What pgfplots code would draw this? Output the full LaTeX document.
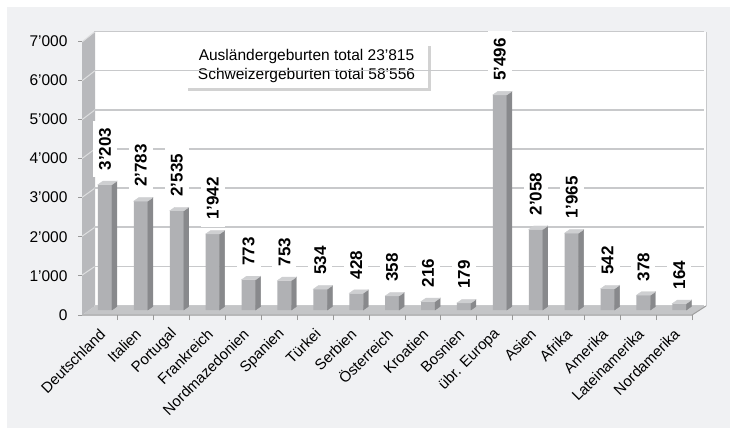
\documentclass[border=0pt]{standalone}
\usepackage{pgfplots}
\pgfplotsset{compat=1.18}
\usepackage{pgfplotstable}
\usepackage{fontspec}
\setmainfont{Liberation Sans}
\usetikzlibrary{shadows}

\definecolor{panel}{RGB}{240,241,243}
\definecolor{barfront}{RGB}{176,177,180}
\definecolor{barside}{RGB}{136,137,140}
\definecolor{bartop}{RGB}{206,207,209}
\definecolor{floorc}{RGB}{196,197,199}
\definecolor{wallc}{RGB}{184,185,188}
\definecolor{gridc}{RGB}{200,201,203}

\pgfdeclareplotmark{blank}{}

% Geburten nach Herkunft
\pgfplotstableread{
x v
0 3203
1 2783
2 2535
3 1942
4 773
5 753
6 534
7 428
8 358
9 216
10 179
11 5496
12 2058
13 1965
14 542
15 378
16 164
}\births

\begin{document}
\begin{tikzpicture}[x=1pt,y=1pt]
\path[use as bounding box] (0,0) rectangle (730,-428);
\fill[white] (0,0) rectangle (730,-428);
\fill[panel] (7,-7) rectangle (730,-428);
% back wall
\fill[white] (95,-32) rectangle (706,-306);
\draw[gridc, line width=1pt] (706,-32) -- (706,-306);
% left wall
\fill[wallc] (82,-42) -- (95,-32) -- (95,-306) -- (82,-315) -- cycle;
\foreach \v in {1000,2000,...,7000}{
  \draw[gridc!60!white, line width=1pt] (82,{-314+0.03886*\v}) -- (95,{-305.5+0.03914*\v});
}
% floor
\fill[floorc] (82,-315) -- (692,-315) -- (706,-306) -- (95,-306) -- cycle;
\draw[gray!75, line width=1pt] (82,-315) -- (692,-315) -- (706,-306);
% note
\node[fill=white, drop shadow={opacity=0.35, shadow xshift=3pt, shadow yshift=-3pt},
  minimum width=243pt, minimum height=45pt, align=center, inner sep=0pt,
  font=\fontsize{15.5}{19}\selectfont] at (306.5,-65.5)
  {Ausländergeburten total 23’815\\Schweizergeburten total 58’556};

\begin{axis}[
  at={(87pt,-310pt)}, anchor=south west,
  scale only axis, width=610.3pt, height=274pt,
  xmin=-0.5, xmax=16.5, ymin=0, ymax=7000,
  axis line style={draw=none},
  tick pos=left, tick align=outside,
  major tick length=4pt, minor tick length=5pt,
  ytick={0,1000,2000,3000,4000,5000,6000,7000},
  scaled y ticks=false,
  xtick={0,...,16},
  xticklabels={Deutschland,Italien,Portugal,Frankreich,Nordmazedonien,Spanien,Türkei,Serbien,Österreich,Kroatien,Bosnien,übr. Europa,Asien,Afrika,Amerika,Lateinamerika,Nordamerika},
  minor xtick={-0.64,0.36,1.36,2.36,3.36,4.36,5.36,6.36,7.36,8.36,9.36,10.36,11.36,12.36,13.36,14.36,15.36,16.36},
  major x tick style={draw=none},
  minor x tick style={draw=gray!80, line width=1pt, yshift=-5pt},
  major y tick style={draw=gray!80, line width=1pt, xshift=-5pt, yshift=-5pt},
  ymajorgrids,
  major grid style={draw=gridc, line width=1.6pt, xshift=7pt, yshift=4.5pt},
  yticklabel style={xshift=-12pt, yshift=-5pt, font=\fontsize{15.5}{18}\selectfont,
    /pgf/number format/1000 sep={’}, /pgf/number format/assume math mode=true},
  xticklabel style={xshift=0pt, yshift=-15pt, rotate=45, anchor=east, font=\fontsize{15}{18}\selectfont},
  clip=false,
]
\addplot[ybar, bar width=14pt, bar shift=0pt, fill=barfront, draw=none,
  nodes near coords, point meta=y,
  every node near coord/.append style={yshift=7pt, rotate=90, anchor=west,
    fill=white, inner xsep=7pt, inner ysep=6pt, text=black,
    font=\fontsize{17}{20}\bfseries\selectfont,
    /pgf/number format/1000 sep={’}, /pgf/number format/assume math mode=true}]
  table[x=x, y=v] {\births};
\addplot[scatter, only marks, mark=blank,
  visualization depends on={rawy \as \val},
  scatter/@pre marker code/.code={%
    \pgfmathsetmacro\h{-\val*0.03914}%
    \pgfmathsetmacro\hh{3.5-\val*0.03914}%
    \fill[barside] (7pt,0pt) -- (12pt,3.5pt) -- (12pt,\hh pt) -- (7pt,\h pt) -- cycle;
    \fill[bartop] (-7pt,0pt) -- (-2pt,3.5pt) -- (12pt,3.5pt) -- (7pt,0pt) -- cycle;
  },
  scatter/@post marker code/.code={}]
  table[x=x, y=v] {\births};
\end{axis}
\end{tikzpicture}
\end{document}
